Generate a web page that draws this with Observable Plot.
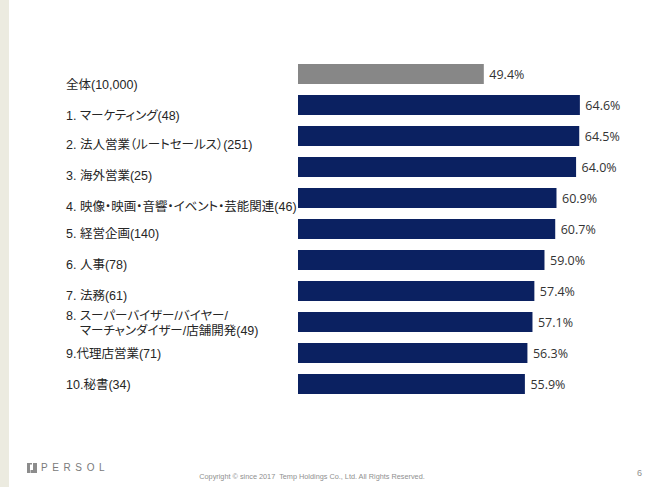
<!DOCTYPE html>
<html><head><meta charset="utf-8">
<script src="https://cdn.jsdelivr.net/npm/d3@7"></script>
<script src="https://cdn.jsdelivr.net/npm/@observablehq/plot@0.6"></script>
<style>
html,body{margin:0;padding:0;background:#fff;}
#page{position:relative;width:650px;height:487px;overflow:hidden;background:#fff;font-family:"Liberation Sans","Noto Sans CJK JP",sans-serif;}
#strip{position:absolute;left:0;top:0;width:9px;height:487px;background:#ecebe0;}
#chart{position:absolute;left:0;top:0;}
#chart svg text{font-feature-settings:"palt";}
#logo{position:absolute;left:27px;top:462px;display:flex;align-items:center;}
#logo span{font-family:"Liberation Sans",sans-serif;font-size:10px;letter-spacing:4.6px;color:#7a7a7a;margin-left:4px;}
#copy{position:absolute;left:0;width:624px;top:472px;text-align:center;font-family:"Liberation Sans",sans-serif;font-size:7.3px;color:#8f8f8f;}
#pnum{position:absolute;left:637px;top:468px;font-family:"Liberation Sans",sans-serif;font-size:9px;color:#8f8f8f;}
</style>
</head><body>
<div id="page">
  <div id="strip"></div>
  <div id="chart"></div>
  <div id="logo"><svg width="10" height="10" viewBox="0 0 10 10"><path d="M0 0H5V1.5H3V10H0Z M6 0H10V10H3.5V7H6Z" fill="#8c8c8c"/></svg><span>PERSOL</span></div>
  <div id="copy">Copyright © since 2017&nbsp; Temp Holdings Co., Ltd. All Rights Reserved.</div>
  <div id="pnum">6</div>
</div>
<script>
const categories = [
  "全体(10,000)",
  "1. マーケティング(48)",
  "2. 法人営業（ルートセールス）(251)",
  "3. 海外営業(25)",
  "4. 映像・映画・音響・イベント・芸能関連(46)",
  "5. 経営企画(140)",
  "6. 人事(78)",
  "7. 法務(61)",
  "8. スーパーバイザー/バイヤー/\n\u00a0\u00a0\u00a0\u00a0マーチャンダイザー/店舗開発(49)",
  "9.代理店営業(71)",
  "10.秘書(34)"
];
const values = [49.4, 64.6, 64.5, 64.0, 60.9, 60.7, 59.0, 57.4, 57.1, 56.3, 55.9];
const groups = ["全体", "職種", "職種", "職種", "職種", "職種", "職種", "職種", "職種", "職種", "職種"];
const xMin = 20, xMax = 70;

const data = categories.map((c, i) => ({category: c, value: values[i], group: groups[i], idx: i}));
const labelFont = {fontSize: 12.5, fill: "#262626", fontFamily: "Liberation Sans, Noto Sans CJK JP, sans-serif", lineHeight: 1.2};
const labelMark = (filter, dy) => Plot.text(data, {
  filter, y: "category", text: "category", frameAnchor: "left", textAnchor: "start",
  dx: -232.5, dy, ...labelFont
});

const chart = Plot.plot({
  width: 650, height: 440,
  marginLeft: 298, marginRight: 36, marginTop: 51, marginBottom: 32.5,
  x: {domain: [xMin, xMax], axis: null},
  y: {domain: categories, padding: 0.35, axis: null},
  color: {domain: ["全体", "職種"], range: ["#878787", "#0b2161"]},
  style: {background: "transparent", overflow: "visible"},
  marks: [
    Plot.barX(data, {x1: xMin, x2: "value", y: "category", fill: "group"}),
    Plot.text(data, {x: "value", y: "category", text: d => d.value.toFixed(1) + "%", textAnchor: "start", dx: 5,
      fontSize: 12.5, fill: "#333", fontFamily: "Open Sans, sans-serif"}),
    labelMark(d => d.idx < 2, 10),
    labelMark(d => d.idx >= 2 && d.idx < 5, 7.5),
    labelMark(d => d.idx >= 5 && d.idx < 8, 4),
    labelMark(d => d.idx >= 8, 0)
  ]
});
document.getElementById("chart").appendChild(chart);
</script>
</body></html>
